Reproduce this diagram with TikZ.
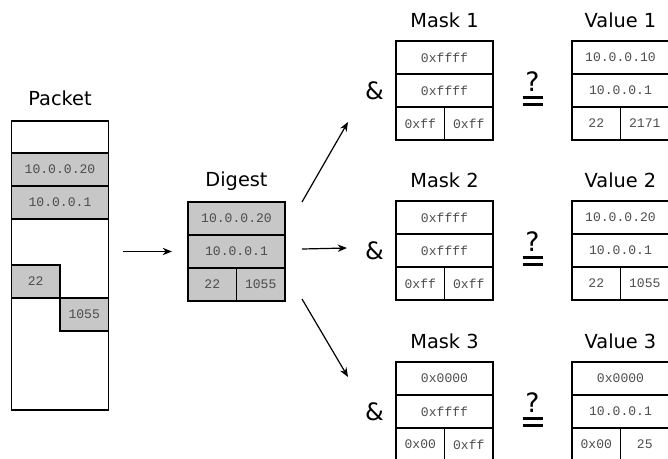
\documentclass[tikz,border=0pt]{standalone}
\usepackage{fontspec}
\setmainfont{DejaVu Sans}
\setmonofont{Liberation Mono}
\usepackage{tikz}
\usetikzlibrary{arrows.meta, positioning, calc}
\usepackage{xcolor}
\definecolor{cellgray}{rgb}{0.78, 0.78, 0.78}
\definecolor{celltext}{rgb}{0.30, 0.30, 0.30}

\begin{document}
\begin{tikzpicture}[
        x=0.75pt, y=-0.75pt,
        field/.style={rectangle, draw, line width=1pt, outer sep=0pt, inner sep=0pt, minimum width=72.75pt, minimum height=24.75pt, font=\ttfamily\fontsize{9.8}{10}\selectfont, text=celltext},
        halffield/.style={field, minimum width=36.375pt},
        shaded/.style={fill=cellgray},
        title/.style={font=\fontsize{14.5}{16}\selectfont, inner sep=0pt},
        amp/.style={font=\fontsize{18}{20}\selectfont, inner sep=0pt},
        qmark/.style={font=\fontsize{20}{22}\selectfont, inner sep=0pt},
        eqbar/.style={line width=2.2pt},
        arrow/.style={line width=0.9pt,->,>={Stealth[length=7pt,width=5.5pt]}}
    ]
        \useasboundingbox (0,0) rectangle (668,458);
        \clip (0,0) rectangle (668,458);

        % packet
        \node [field, minimum height=216.75pt] (pk) at (60,265.5) {};
        \node [title, above=12pt of pk, anchor=base] (tpk) {Packet};
        \node [field, shaded, below=24pt of pk.north] (pk1) {10.0.0.20};
        \node [field, shaded, below=0pt of pk1] (pk2) {10.0.0.1};
        \node [halffield, shaded, below right=108pt and 0pt of pk.north west] (pk3) {22};
        \node [halffield, shaded, below right=0pt and 0pt of pk3.south east] (pk4) {1055};

        % digest
        \node [field, shaded, anchor=north] (dg1) at (236.5,202) {10.0.0.20};
        \node [title, above=12pt of dg1, anchor=base] (tdg) {Digest};
        \node [field, shaded, below=0pt of dg1] (dg2) {10.0.0.1};
        \node [halffield, shaded, below right=0pt and 0pt of dg2.south west] (dg3) {22};
        \node [halffield, shaded, below left=0pt and 0pt of dg2.south east] (dg4) {1055};

        % masks and values
        \foreach \i/\y/\ma/\mb/\mc/\md/\va/\vb/\vc/\vd in {
            1/41/0xffff/0xffff/0xff/0xff/10.0.0.10/10.0.0.1/22/2171,
            2/201/0xffff/0xffff/0xff/0xff/10.0.0.20/10.0.0.1/22/1055,
            3/362/0x0000/0xffff/0x00/0xff/0x0000/10.0.0.1/0x00/25}{
            \node [field, anchor=north] (mk\i-a) at (444.5,\y) {\ma};
            \node [field, below=0pt of mk\i-a] (mk\i-b) {\mb};
            \node [halffield, below right=0pt and 0pt of mk\i-b.south west] (mk\i-c) {\mc};
            \node [halffield, below left=0pt and 0pt of mk\i-b.south east] (mk\i-d) {\md};
            \node [title, above=10pt of mk\i-a, anchor=base] (tmk\i) {Mask \i};

            \node [field, anchor=north] (vl\i-a) at (620.5,\y) {\va};
            \node [field, below=0pt of vl\i-a] (vl\i-b) {\vb};
            \node [halffield, below right=0pt and 0pt of vl\i-b.south west] (vl\i-c) {\vc};
            \node [halffield, below left=0pt and 0pt of vl\i-b.south east] (vl\i-d) {\vd};
            \node [title, above=10pt of vl\i-a, anchor=base] (tvl\i) {Value \i};

            \node [amp, left=9pt of mk\i-b] (amp\i) {\&};
            \coordinate (eq\i) at ($(mk\i-b.east)!0.5!(vl\i-b.west)$);
            \node [qmark] (qm\i) at ([shift={(0,-8.5)}]eq\i) {?};
            \draw [eqbar] ([shift={(-10,7)}]eq\i) -- ++(20,0);
            \draw [eqbar] ([shift={(-10,14)}]eq\i) -- ++(20,0);
        }

        \coordinate (in1) at (348,122);
        \coordinate (in2) at (347,248);
        \coordinate (in3) at (348,377);

        \draw [arrow, shorten >=12pt] (pk.east |- dg2.west) ++(14,0) -- (dg2.west);
        \draw [arrow] ([shift={(17,0)}]dg1.north east) -- (in1);
        \draw [arrow] ([shift={(17,-2.5)}]dg2.east) -- (in2);
        \draw [arrow] ([shift={(17,-2)}]dg4.south east) -- (in3);
    \end{tikzpicture}
\end{document}
